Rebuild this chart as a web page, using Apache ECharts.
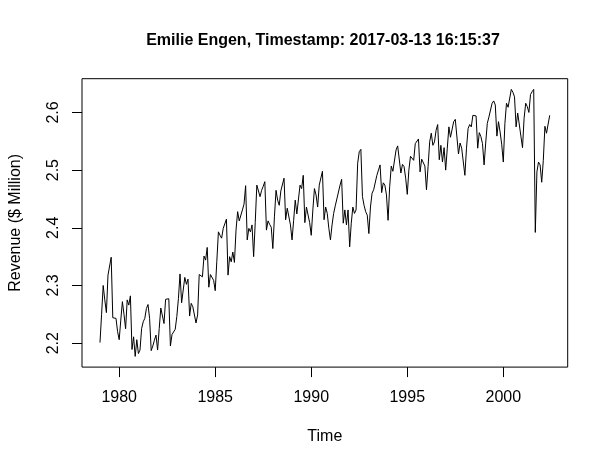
<!DOCTYPE html>
<html>
<head>
<meta charset="utf-8">
<script src="https://cdn.jsdelivr.net/npm/echarts@6/dist/echarts.min.js"></script>
<style>
  html, body { margin: 0; padding: 0; background: #fff; }
  #chart { width: 608px; height: 465px; }
</style>
</head>
<body>
<div id="chart"></div>
<script>
// monthly revenue, $ million, starting Jan 1979
var startYear = 1979;
var revenue1979to1984 = [
  2.201, 2.250, 2.300, 2.275, 2.253, 2.318, 2.318, 2.349, 2.244, 2.246, 2.243, 2.220,
  2.206, 2.240, 2.272, 2.250, 2.225, 2.275, 2.266, 2.282, 2.189, 2.211, 2.177, 2.206,
  2.182, 2.188, 2.225, 2.237, 2.243, 2.260, 2.267, 2.243, 2.187, 2.195, 2.205, 2.214,
  2.188, 2.225, 2.261, 2.262, 2.234, 2.276, 2.276, 2.277, 2.195, 2.215, 2.215, 2.224,
  2.246, 2.277, 2.320, 2.270, 2.267, 2.314, 2.302, 2.311, 2.247, 2.269, 2.263, 2.260,
  2.235, 2.249, 2.319, 2.322, 2.315, 2.351, 2.344, 2.366, 2.297, 2.319, 2.319, 2.309
];
var revenue1985to1990 = [
  2.291, 2.342, 2.393, 2.387, 2.382, 2.399, 2.402, 2.415, 2.318, 2.350, 2.341, 2.358,
  2.340, 2.396, 2.428, 2.412, 2.413, 2.431, 2.441, 2.473, 2.379, 2.399, 2.393, 2.405,
  2.350, 2.409, 2.474, 2.472, 2.454, 2.465, 2.472, 2.480, 2.396, 2.412, 2.406, 2.401,
  2.364, 2.419, 2.465, 2.448, 2.439, 2.464, 2.464, 2.486, 2.414, 2.434, 2.431, 2.405,
  2.379, 2.413, 2.448, 2.424, 2.425, 2.474, 2.468, 2.491, 2.409, 2.436, 2.434, 2.409,
  2.387, 2.431, 2.468, 2.457, 2.436, 2.474, 2.471, 2.498, 2.414, 2.436, 2.425, 2.399
];
var revenue1991to1996 = [
  2.379, 2.405, 2.425, 2.438, 2.436, 2.462, 2.474, 2.484, 2.408, 2.431, 2.405, 2.431,
  2.367, 2.408, 2.436, 2.425, 2.431, 2.512, 2.532, 2.536, 2.454, 2.439, 2.428, 2.422,
  2.390, 2.436, 2.460, 2.466, 2.468, 2.491, 2.500, 2.509, 2.461, 2.478, 2.474, 2.457,
  2.413, 2.471, 2.507, 2.498, 2.500, 2.535, 2.542, 2.543, 2.495, 2.510, 2.506, 2.486,
  2.458, 2.500, 2.524, 2.521, 2.517, 2.546, 2.546, 2.554, 2.497, 2.519, 2.517, 2.507,
  2.466, 2.506, 2.549, 2.564, 2.543, 2.549, 2.569, 2.579, 2.518, 2.543, 2.514, 2.539
];
var revenue1997to2002 = [
  2.500, 2.538, 2.575, 2.557, 2.555, 2.584, 2.588, 2.590, 2.528, 2.547, 2.538, 2.539,
  2.491, 2.538, 2.572, 2.579, 2.575, 2.595, 2.594, 2.594, 2.538, 2.565, 2.558, 2.546,
  2.509, 2.547, 2.581, 2.592, 2.591, 2.616, 2.620, 2.613, 2.559, 2.584, 2.566, 2.545,
  2.514, 2.581, 2.616, 2.609, 2.608, 2.640, 2.635, 2.627, 2.575, 2.599, 2.601, 2.559,
  2.539, 2.590, 2.616, 2.610, 2.600, 2.631, 2.636, 2.640, 2.392, 2.497, 2.514, 2.509,
  2.479, 2.517, 2.576, 2.564, 2.565, 2.595
];
var xTicks = [1980, 1985, 1990, 1995, 2000];
var yTicks = [2.2, 2.3, 2.4, 2.5, 2.6];
var chartTitle = 'Emilie Engen, Timestamp: 2017-03-13 16:15:37';
var xTitle = 'Time';
var yTitle = 'Revenue ($ Million)';

var revenue = revenue1979to1984.concat(revenue1985to1990, revenue1991to1996, revenue1997to2002);
var points = revenue.map(function (v, i) { return [startYear + i / 12, v]; });

// R style ranges: data range padded by 4% each side
var x0 = points[0][0], x1 = points[points.length - 1][0];
var y0 = Math.min.apply(null, revenue), y1 = Math.max.apply(null, revenue);
var xPad = (x1 - x0) * 0.04, yPad = (y1 - y0) * 0.04;

var font = 'Liberation Sans';
var myChart = echarts.init(document.getElementById('chart'));
var option = {
    animation: false,
    backgroundColor: '#fff',
    title: {
        text: chartTitle,
        left: 323, top: 33, textAlign: 'center', padding: 0,
        textStyle: { fontFamily: font, fontSize: 16, fontWeight: 'bold', color: '#000' }
    },
    grid: {
        left: 78.7, right: 40.3, top: 78.7, bottom: 97.9,
        show: true, borderColor: '#000', borderWidth: 1, backgroundColor: 'transparent'
    },
    xAxis: {
        type: 'value',
        min: x0 - xPad, max: x1 + xPad,
        name: xTitle, nameLocation: 'middle', nameGap: 61,
        nameTextStyle: { fontFamily: font, fontSize: 16, color: '#000' },
        axisLine: { show: false },
        splitLine: { show: false },
        axisTick: { show: true, length: 10, customValues: xTicks, lineStyle: { color: '#000' } },
        axisLabel: {
            customValues: xTicks, margin: 22, fontFamily: font, fontSize: 16, color: '#000',
            formatter: function (v) { return String(v); }
        }
    },
    yAxis: {
        type: 'value',
        min: y0 - yPad, max: y1 + yPad,
        name: yTitle, nameLocation: 'middle', nameGap: 58,
        nameTextStyle: { fontFamily: font, fontSize: 16, color: '#000' },
        axisLine: { show: false },
        splitLine: { show: false },
        axisTick: { show: true, length: 10, customValues: yTicks, lineStyle: { color: '#000' } },
        axisLabel: {
            customValues: yTicks, rotate: 90, margin: 20,
            fontFamily: font, fontSize: 16, color: '#000',
            formatter: function (v) { return v.toFixed(1); }
        }
    },
    series: [{
        type: 'line',
        data: points,
        showSymbol: false,
        silent: true,
        lineStyle: { color: '#000', width: 1 }
    }]
};
myChart.setOption(option);
</script>
</body>
</html>
